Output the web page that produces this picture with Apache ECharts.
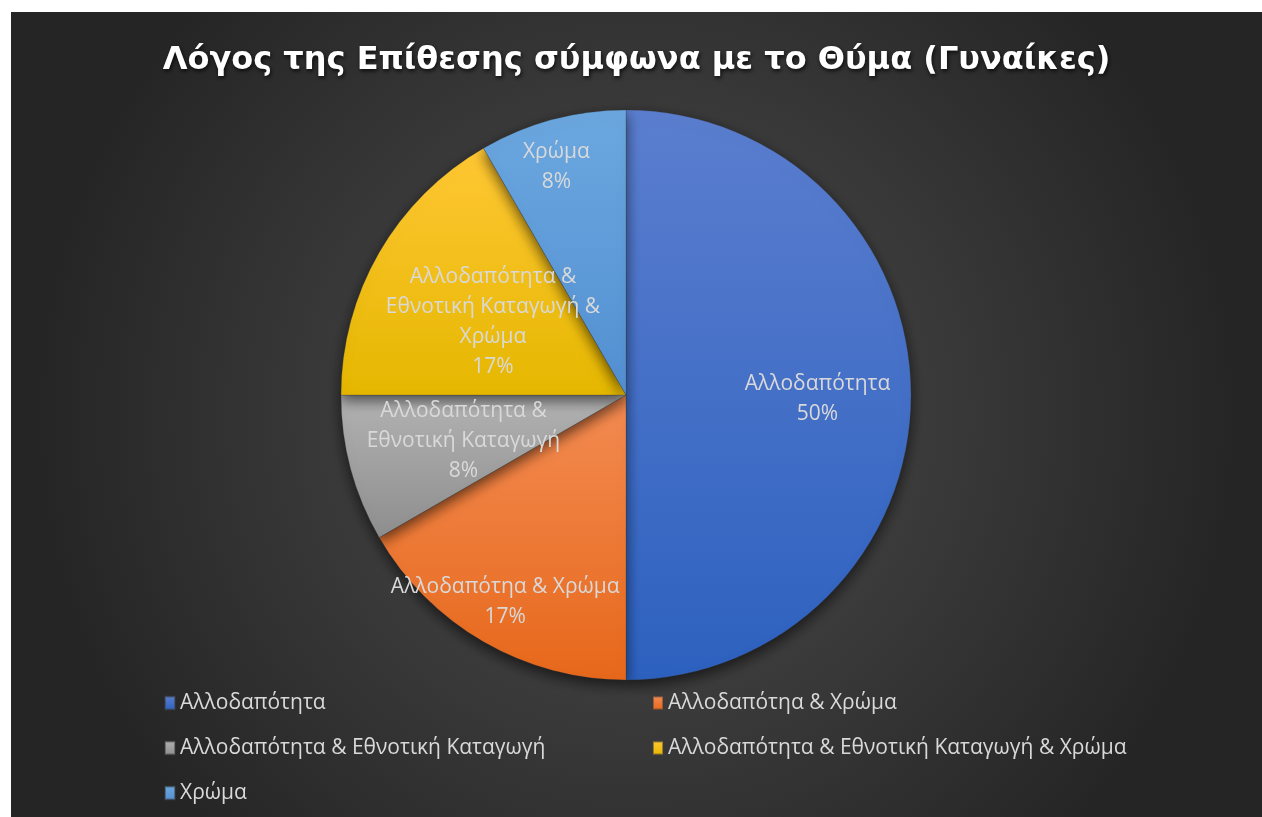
<!DOCTYPE html>
<html>
<head>
<meta charset="utf-8">
<script src="https://cdn.jsdelivr.net/npm/echarts@6/dist/echarts.min.js"></script>
<style>
html,body{margin:0;padding:0;background:#fff;width:1262px;height:817px;overflow:hidden;}
#c{position:absolute;left:11px;top:12px;width:1251px;height:805px;}
</style>
</head>
<body>
<div id="c"></div>
<script>
const titleText = 'Λόγος της Επίθεσης σύμφωνα με το Θύμα (Γυναίκες)';
const categories = ['Αλλοδαπότητα', 'Αλλοδαπότηα & Χρώμα', 'Αλλοδαπότητα & Εθνοτική Καταγωγή', 'Αλλοδαπότητα & Εθνοτική Καταγωγή & Χρώμα', 'Χρώμα'];
const values = [6, 2, 1, 2, 1];

const colorTop = ['#5b7ecf', '#f38b52', '#b2b2b2', '#ffc734', '#6ba7df'];
const colorBottom = ['#2d61bf', '#e7681b', '#8e8e8e', '#e5b700', '#5390d2'];
const labelOffsets = [[46, 4], [-48, 81], [-22, 8], [-7, 0], [-32, -87]];

const chart = echarts.init(document.getElementById('c'));

const data = categories.map((name, i) => ({
  name: name,
  value: values[i],
  itemStyle: {
    color: new echarts.graphic.LinearGradient(0, 0, 0, 1, [
      { offset: 0, color: colorTop[i] },
      { offset: 1, color: colorBottom[i] }
    ])
  },
  label: { offset: labelOffsets[i] }
}));

const legendText = { color: '#d9d9d9', fontSize: 21, fontFamily: 'Open Sans', lineHeight: 22 };

chart.setOption({
  backgroundColor: {
    type: 'radial', x: 0.5, y: 0.5, r: 0.75,
    colorStops: [
      { offset: 0, color: '#4e4e4e' },
      { offset: 1, color: '#252525' }
    ]
  },
  title: {
    text: titleText,
    left: 'center',
    top: 28,
    textStyle: {
      color: '#ffffff',
      fontFamily: 'DejaVu Sans',
      fontWeight: 'bold',
      fontSize: 32,
      textShadowColor: 'rgba(0,0,0,0.8)',
      textShadowBlur: 4,
      textShadowOffsetX: 1,
      textShadowOffsetY: 2
    }
  },
  legend: [
    {
      data: [categories[0], categories[2], categories[4]],
      orient: 'vertical',
      left: 148,
      top: 675,
      itemWidth: 10,
      itemHeight: 13,
      itemGap: 23,
      icon: 'rect',
      textStyle: legendText,
      selectedMode: false
    },
    {
      data: [categories[1], categories[3]],
      orient: 'vertical',
      left: 636,
      top: 675,
      itemWidth: 10,
      itemHeight: 13,
      itemGap: 23,
      icon: 'rect',
      textStyle: legendText,
      selectedMode: false
    }
  ],
  series: [{
    type: 'pie',
    center: [615, 383],
    radius: 285,
    startAngle: 90,
    clockwise: true,
    animation: false,
    itemStyle: {
      borderColor: 'rgba(60,60,60,0.5)',
      borderWidth: 0.5,
      shadowColor: 'rgba(0,0,0,0.6)',
      shadowBlur: 14,
      shadowOffsetY: 5
    },
    label: {
      show: true,
      position: 'inside',
      color: '#d9d9d9',
      fontFamily: 'Open Sans',
      fontSize: 21,
      lineHeight: 30,
      align: 'center',
      formatter: function (p) {
        const n = p.name.length > 25 ? p.name.replace(/& /g, '&\n') : p.name;
        return n + '\n' + Math.round(p.percent) + '%';
      }
    },
    labelLine: { show: false },
    emphasis: { disabled: true },
    data: data
  }]
});
</script>
</body>
</html>
